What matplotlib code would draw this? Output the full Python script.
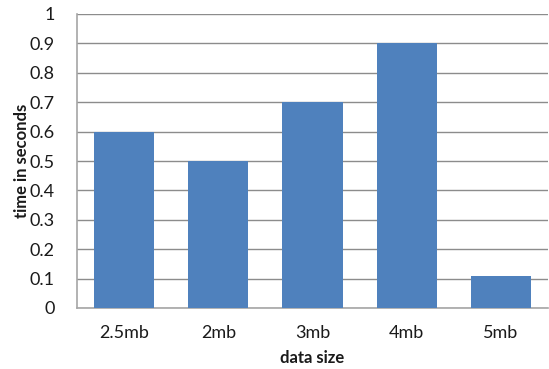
import matplotlib.pyplot as plt
import numpy as np

plt.rcParams['font.family'] = ['Lato', 'DejaVu Sans']

# data
sizes = ['2.5mb', '2mb', '3mb', '4mb', '5mb']
times = [0.6, 0.5, 0.7, 0.9, 0.11]
yticks = [0, 0.1, 0.2, 0.3, 0.4, 0.5, 0.6, 0.7, 0.8, 0.9, 1]
ytick_labels = ['0', '0.1', '0.2', '0.3', '0.4', '0.5', '0.6', '0.7', '0.8', '0.9', '1']

fig = plt.figure(figsize=(5.49, 3.69), dpi=100)
ax = fig.add_axes([77 / 549, 1 - 308 / 369, (548 - 77) / 549, (308 - 14) / 369])

x = np.arange(len(sizes))
ax.bar(x, times, width=0.64, color='#4F81BD', zorder=3)

ax.set_xlim(-0.5, len(sizes) - 0.5)
ax.set_ylim(0, 1)
ax.set_yticks(yticks)
ax.set_yticklabels(ytick_labels)
ax.set_xticks(x)
ax.set_xticklabels(sizes)
ax.tick_params(axis='both', length=0, labelsize=13, colors='#1a1a1a')
ax.tick_params(axis='y', pad=16)
ax.tick_params(axis='x', pad=12)

ax.grid(axis='y', color='#8c8c8c', linewidth=1, zorder=0)
for side in ['top', 'right']:
    ax.spines[side].set_visible(False)
for side in ['left', 'bottom']:
    ax.spines[side].set_color('#a6a6a6')
    ax.spines[side].set_linewidth(1.2)

ax.set_ylabel('time in seconds', fontsize=12, fontweight='bold', color='#1a1a1a', va='center')
ax.set_xlabel('data size', fontsize=12, fontweight='bold', color='#1a1a1a', va='center')
ax.yaxis.set_label_coords(-0.117, 0.5)
ax.xaxis.set_label_coords(0.5, -0.17)

fig.savefig('out.png', dpi=100)
